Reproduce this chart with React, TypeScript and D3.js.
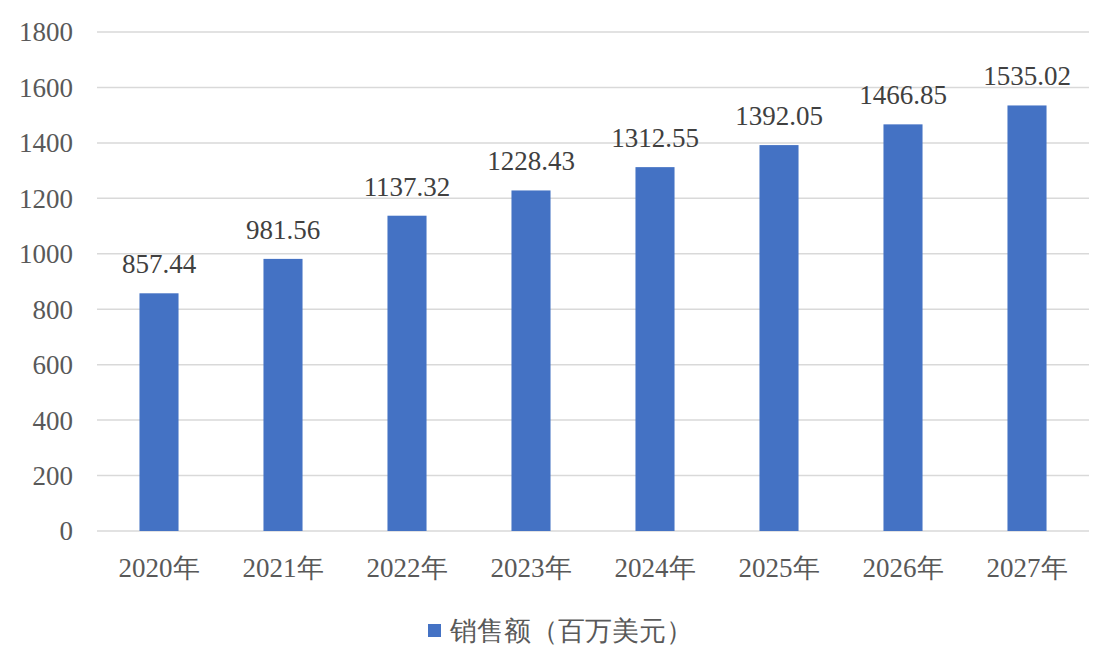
import React from "react";
import * as d3 from "d3";

const categories = ["2020年", "2021年", "2022年", "2023年", "2024年", "2025年", "2026年", "2027年"];
const sales = [857.44, 981.56, 1137.32, 1228.43, 1312.55, 1392.05, 1466.85, 1535.02];
const yTicks = [0, 200, 400, 600, 800, 1000, 1200, 1400, 1600, 1800];
const seriesName = "销售额（百万美元）";

const W = 1120;
const H = 671;
const FONT = "Liberation Serif";

export default function App() {
  const x = d3.scaleBand<string>().domain(categories).range([97, 1089]).paddingInner(0.685).paddingOuter(0.3425);
  const y = d3.scaleLinear().domain([0, 1800]).range([531, 32]);

  return (
    <svg width={W} height={H} style={{ position: "absolute", left: 0, top: 0, background: "#fff" }}>
      {yTicks.map((t) => (
        <g key={t}>
          <line x1={97} x2={1089} y1={y(t)} y2={y(t)} stroke="#d9d9d9" strokeWidth={1.5} />
          <text x={73} y={y(t)} dy="0.35em" textAnchor="end" fontSize={27} fill="#595959" style={{ fontFamily: FONT }}>
            {t}
          </text>
        </g>
      ))}
      {categories.map((c, i) => (
        <g key={c}>
          <rect x={x(c)} y={y(sales[i])} width={x.bandwidth()} height={y(0) - y(sales[i])} fill="#4472C4" />
          <text x={x(c)! + x.bandwidth() / 2} y={y(sales[i]) - 20} textAnchor="middle" fontSize={27} fill="#404040" style={{ fontFamily: FONT }}>
            {sales[i].toFixed(2)}
          </text>
          <text x={x(c)! + x.bandwidth() / 2} y={568} dy="0.35em" textAnchor="middle" fontSize={27} fill="#595959" style={{ fontFamily: FONT }}>
            {c}
          </text>
        </g>
      ))}
      <rect x={428} y={624} width={13} height={13} fill="#4472C4" />
      <text x={450} y={631} dy="0.35em" fontSize={26.5} fill="#595959" style={{ fontFamily: FONT }}>
        {seriesName}
      </text>
    </svg>
  );
}
